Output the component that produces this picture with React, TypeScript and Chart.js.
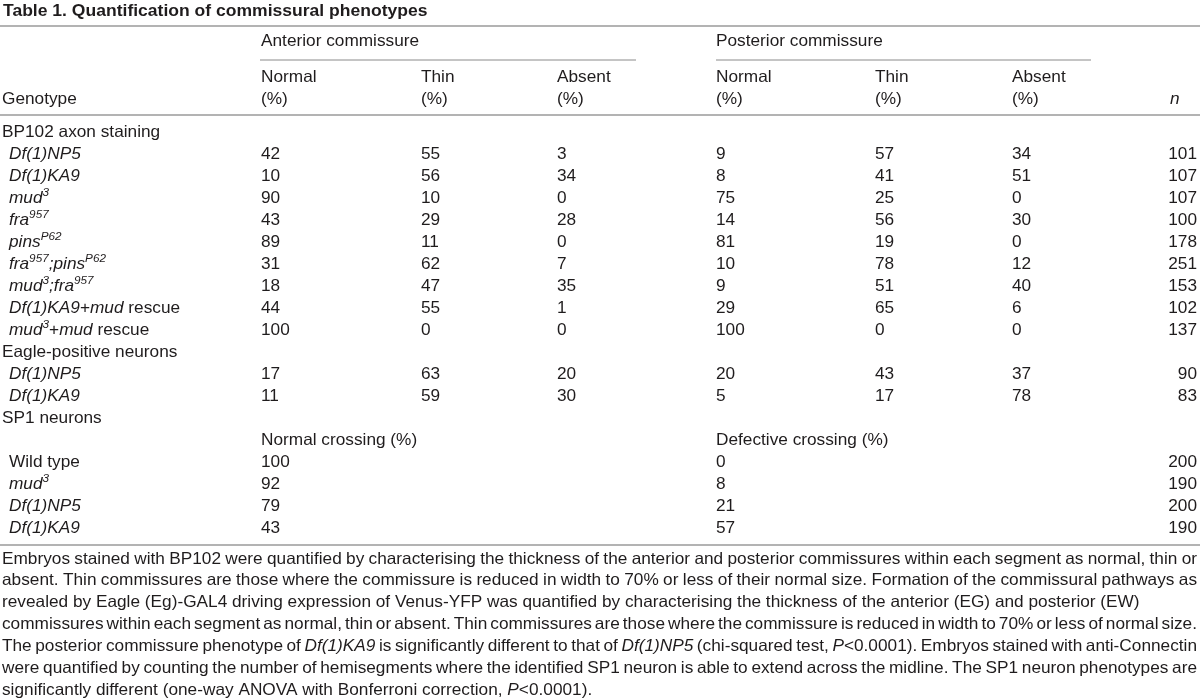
import React, { useEffect, useRef } from "react";
import { Chart, registerables } from "chart.js";

Chart.register(...registerables);

type Seg = { t: string; i?: boolean; s?: boolean };

// ---------- data ----------
const titleText = "Table 1. Quantification of commissural phenotypes";
const spannerLabels = ["Anterior commissure", "Posterior commissure"];
const columnHeads = ["Normal", "Thin", "Absent", "Normal", "Thin", "Absent"];
const groupLabels = ["BP102 axon staining", "Eagle-positive neurons", "SP1 neurons"];
const sp1Heads = ["Normal crossing (%)", "Defective crossing (%)"];

const bpGenotypes: Seg[][] = [
  [{ t: "Df(1)NP5", i: true }],
  [{ t: "Df(1)KA9", i: true }],
  [{ t: "mud", i: true }, { t: "3", i: true, s: true }],
  [{ t: "fra", i: true }, { t: "957", i: true, s: true }],
  [{ t: "pins", i: true }, { t: "P62", i: true, s: true }],
  [{ t: "fra", i: true }, { t: "957", i: true, s: true }, { t: ";pins", i: true }, { t: "P62", i: true, s: true }],
  [{ t: "mud", i: true }, { t: "3", i: true, s: true }, { t: ";fra", i: true }, { t: "957", i: true, s: true }],
  [{ t: "Df(1)KA9", i: true }, { t: "+" }, { t: "mud", i: true }, { t: " rescue" }],
  [{ t: "mud", i: true }, { t: "3", i: true, s: true }, { t: "+" }, { t: "mud", i: true }, { t: " rescue" }],
];
const bpAntNormal = [42, 10, 90, 43, 89, 31, 18, 44, 100];
const bpAntThin = [55, 56, 10, 29, 11, 62, 47, 55, 0];
const bpAntAbsent = [3, 34, 0, 28, 0, 7, 35, 1, 0];
const bpPostNormal = [9, 8, 75, 14, 81, 10, 9, 29, 100];
const bpPostThin = [57, 41, 25, 56, 19, 78, 51, 65, 0];
const bpPostAbsent = [34, 51, 0, 30, 0, 12, 40, 6, 0];
const bpN = [101, 107, 107, 100, 178, 251, 153, 102, 137];

const egGenotypes: Seg[][] = [
  [{ t: "Df(1)NP5", i: true }],
  [{ t: "Df(1)KA9", i: true }],
];
const egAntNormal = [17, 11];
const egAntThin = [63, 59];
const egAntAbsent = [20, 30];
const egPostNormal = [20, 5];
const egPostThin = [43, 17];
const egPostAbsent = [37, 78];
const egN = [90, 83];

const sp1Genotypes: Seg[][] = [
  [{ t: "Wild type" }],
  [{ t: "mud", i: true }, { t: "3", i: true, s: true }],
  [{ t: "Df(1)NP5", i: true }],
  [{ t: "Df(1)KA9", i: true }],
];
const sp1Normal = [100, 92, 79, 43];
const sp1Defective = [0, 8, 21, 57];
const sp1N = [200, 190, 200, 190];

const footnoteLines: { segs: Seg[]; justify: boolean }[] = [
  { segs: [{ t: "Embryos stained with BP102 were quantified by characterising the thickness of the anterior and posterior commissures within each segment as normal, thin or" }], justify: true },
  { segs: [{ t: "absent. Thin commissures are those where the commissure is reduced in width to 70% or less of their normal size. Formation of the commissural pathways as" }], justify: true },
  { segs: [{ t: "revealed by Eagle (Eg)-GAL4 driving expression of Venus-YFP was quantified by characterising the thickness of the anterior (EG) and posterior (EW)" }], justify: false },
  { segs: [{ t: "commissures within each segment as normal, thin or absent. Thin commissures are those where the commissure is reduced in width to 70% or less of normal size." }], justify: true },
  { segs: [{ t: "The posterior commissure phenotype of " }, { t: "Df(1)KA9", i: true }, { t: " is significantly different to that of " }, { t: "Df(1)NP5", i: true }, { t: " (chi-squared test, " }, { t: "P", i: true }, { t: "<0.0001). Embryos stained with anti-Connectin" }], justify: true },
  { segs: [{ t: "were quantified by counting the number of hemisegments where the identified SP1 neuron is able to extend across the midline. The SP1 neuron phenotypes are" }], justify: true },
  { segs: [{ t: "significantly different (one-way ANOVA with Bonferroni correction, " }, { t: "P", i: true }, { t: "<0.0001)." }], justify: false },
];

// ---------- layout ----------
const FAM = '"Liberation Sans", Arial, Helvetica, sans-serif';
const FS = 16.5;
const HS = 1.045; // horizontal stretch of glyphs
const TEXT = "#1f1c1d";
const colX = [261, 421, 557, 716, 875, 1012];
const nRight = 1197;
const rowBase = (i: number) => 136.7 + 22 * i;

function font(size: number, italic?: boolean, bold?: boolean) {
  return `${italic ? "italic " : ""}${bold ? "bold " : ""}${size}px ${FAM}`;
}

function tw(ctx: CanvasRenderingContext2D, t: string) {
  return ctx.measureText(t).width * HS;
}

function txt(ctx: CanvasRenderingContext2D, t: string, x: number, y: number) {
  ctx.save();
  ctx.translate(x, y);
  ctx.scale(HS, 1);
  ctx.fillText(t, 0, 0);
  ctx.restore();
}

function segWidth(ctx: CanvasRenderingContext2D, s: Seg) {
  ctx.font = font(s.s ? FS * 0.68 : FS, s.i);
  return tw(ctx, s.t);
}

function drawRich(ctx: CanvasRenderingContext2D, segs: Seg[], x: number, y: number) {
  let cx = x;
  for (const s of segs) {
    ctx.font = font(s.s ? FS * 0.68 : FS, s.i);
    txt(ctx, s.t, cx, s.s ? y - FS * 0.4 : y);
    cx += tw(ctx, s.t);
  }
  return cx;
}

function drawFootLine(ctx: CanvasRenderingContext2D, segs: Seg[], x0: number, x1: number, y: number, justify: boolean) {
  const words: Seg[][] = [];
  let cur: Seg[] = [];
  for (const s of segs) {
    const parts = s.t.split(" ");
    parts.forEach((p, k) => {
      if (k > 0) {
        if (cur.length) words.push(cur);
        cur = [];
      }
      if (p.length) cur.push({ t: p, i: s.i });
    });
  }
  if (cur.length) words.push(cur);
  const widths = words.map((w) => w.reduce((a, s) => a + segWidth(ctx, s), 0));
  ctx.font = font(FS);
  const sp = tw(ctx, " ");
  const total = widths.reduce((a, b) => a + b, 0);
  const gaps = words.length - 1;
  const target = x1 - x0;
  let gap = sp;
  let scale = 1;
  if (justify) {
    const g = (target - total) / gaps;
    if (g >= 2) gap = g;
    else {
      gap = 2;
      scale = target / (total + gap * gaps);
    }
  }
  ctx.save();
  ctx.translate(x0, 0);
  ctx.scale(scale, 1);
  let cx = 0;
  words.forEach((w, k) => {
    drawRich(ctx, w, cx, y);
    cx += widths[k] + gap;
  });
  ctx.restore();
}

const tablePlugin = {
  id: "tablePlugin",
  afterDraw(chart: any) {
    const ctx: CanvasRenderingContext2D = chart.ctx;
    const xs = chart.scales.x;
    const ys = chart.scales.y;
    const X = (v: number) => xs.getPixelForValue(v);
    const Y = (v: number) => ys.getPixelForValue(v);
    ctx.save();
    ctx.fillStyle = "#ffffff";
    ctx.fillRect(0, 0, chart.width, chart.height);
    ctx.fillStyle = TEXT;
    ctx.textBaseline = "alphabetic";
    ctx.textAlign = "left";

    // title
    ctx.font = font(FS + 0.3, false, true);
    txt(ctx, titleText, X(3), Y(15.5));

    // rules
    const hline = (y: number, a: number, b: number, w: number, c: string) => {
      ctx.strokeStyle = c;
      ctx.lineWidth = w;
      ctx.beginPath();
      ctx.moveTo(X(a), Y(y));
      ctx.lineTo(X(b), Y(y));
      ctx.stroke();
    };
    hline(26, 0, 1200, 1.6, "#9a9a9a");
    hline(60, 260, 636, 1, "#8a8a8a");
    hline(60, 716, 1091, 1, "#8a8a8a");
    hline(115, 0, 1200, 1.6, "#9a9a9a");
    hline(545, 0, 1200, 1.6, "#9a9a9a");

    ctx.fillStyle = TEXT;
    ctx.font = font(FS);
    txt(ctx, spannerLabels[0], X(colX[0]), Y(46));
    txt(ctx, spannerLabels[1], X(colX[3]), Y(46));
    columnHeads.forEach((h, k) => {
      ctx.font = font(FS);
      txt(ctx, h, X(colX[k]), Y(82));
      txt(ctx, "(%)", X(colX[k]), Y(103.5));
    });
    txt(ctx, "Genotype", X(2), Y(103.5));
    ctx.font = font(FS, true);
    txt(ctx, "n", X(1170), Y(103.5));

    const drawRow = (row: number, label: Seg[], vals: number[], n: number, xsCols: number[]) => {
      const y = Y(rowBase(row));
      ctx.fillStyle = TEXT;
      drawRich(ctx, label, X(9), y);
      ctx.font = font(FS);
      vals.forEach((v, k) => {
        txt(ctx, String(v), X(xsCols[k]), y);
      });
      const ns = String(n);
      txt(ctx, ns, X(nRight) - tw(ctx, ns), y);
    };

    let r = 0;
    ctx.font = font(FS);
    txt(ctx, groupLabels[0], X(2), Y(rowBase(r)));
    r++;
    bpGenotypes.forEach((g, k) => {
      drawRow(r, g, [bpAntNormal[k], bpAntThin[k], bpAntAbsent[k], bpPostNormal[k], bpPostThin[k], bpPostAbsent[k]], bpN[k], colX);
      r++;
    });
    ctx.font = font(FS);
    txt(ctx, groupLabels[1], X(2), Y(rowBase(r)));
    r++;
    egGenotypes.forEach((g, k) => {
      drawRow(r, g, [egAntNormal[k], egAntThin[k], egAntAbsent[k], egPostNormal[k], egPostThin[k], egPostAbsent[k]], egN[k], colX);
      r++;
    });
    ctx.font = font(FS);
    txt(ctx, groupLabels[2], X(2), Y(rowBase(r)));
    r++;
    txt(ctx, sp1Heads[0], X(colX[0]), Y(rowBase(r)));
    txt(ctx, sp1Heads[1], X(colX[3]), Y(rowBase(r)));
    r++;
    sp1Genotypes.forEach((g, k) => {
      drawRow(r, g, [sp1Normal[k], sp1Defective[k]], sp1N[k], [colX[0], colX[3]]);
      r++;
    });

    // footnote
    ctx.fillStyle = TEXT;
    footnoteLines.forEach((ln, k) => {
      drawFootLine(ctx, ln.segs, X(2), X(1197), Y(563.5 + 21.9 * k), ln.justify);
    });
    ctx.restore();
  },
};

export default function App() {
  const ref = useRef<HTMLCanvasElement | null>(null);
  useEffect(() => {
    if (!ref.current) return;
    const chart = new Chart(ref.current, {
      type: "scatter",
      data: { datasets: [{ data: [], pointRadius: 0 }] },
      options: {
        animation: false,
        responsive: false,
        maintainAspectRatio: false,
        layout: { padding: 0 },
        plugins: { legend: { display: false }, tooltip: { enabled: false } },
        scales: {
          x: { type: "linear", min: 0, max: 1200, display: false },
          y: { type: "linear", min: 0, max: 700, reverse: true, display: false },
        },
      },
      plugins: [tablePlugin],
    });
    return () => chart.destroy();
  }, []);
  return (
    <div style={{ position: "fixed", left: 0, top: 0, width: 1200, height: 700, background: "#fff" }}>
      <canvas ref={ref} width={1200} height={700} style={{ width: 1200, height: 700, display: "block" }} />
    </div>
  );
}
